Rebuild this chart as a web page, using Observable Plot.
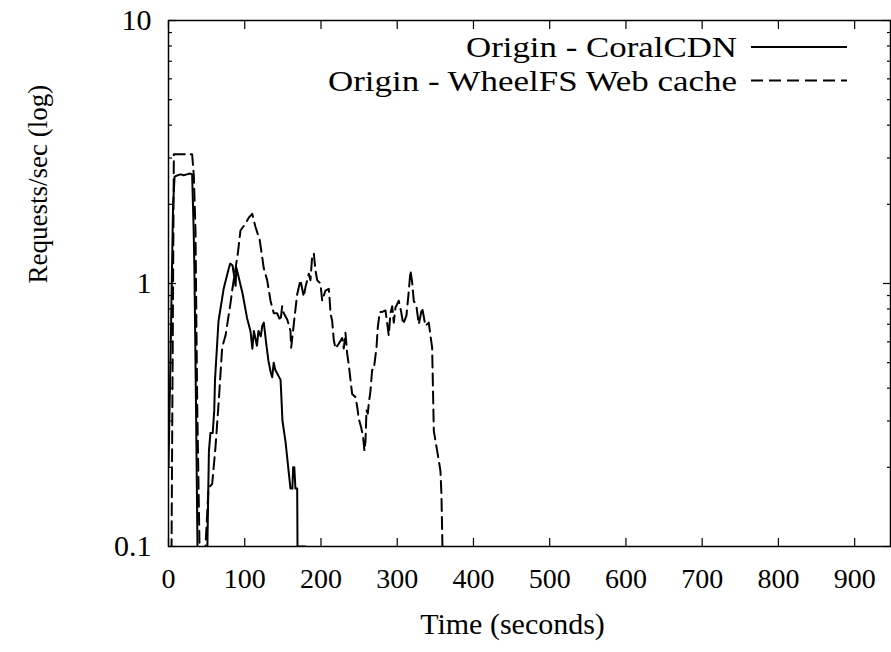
<!DOCTYPE html>
<html><head><meta charset="utf-8">
<script src="https://cdn.jsdelivr.net/npm/d3@7"></script>
<script src="https://cdn.jsdelivr.net/npm/@observablehq/plot@0.6"></script>
<style>body{margin:0;background:#fff}</style>
</head><body><div id="chart"></div>
<script>
// Series: Origin - CoralCDN (solid)
const coralT = [0,3,6,8,12,16,20,24,28,31,33,34,36,38,39,50,51,53,55,58,60,61,65.6,72.5,79,81,84,88,89,97,103,107.5,110,112,116,118,121,123,125,128.5,131,134,136,138,140,147,149.5,153.5,157.5,160,162.5,163.5,165,166.5,168.8,169.2,180];
const coralV = [0.2,0.6,2.0,2.55,2.58,2.6,2.58,2.6,2.62,2.6,1.6,1.12,0.36,0.1,0.07,0.07,0.1,0.23,0.27,0.27,0.33,0.43,0.72,0.96,1.14,1.19,1.17,0.98,1.15,0.92,0.74,0.66,0.565,0.66,0.58,0.66,0.63,0.69,0.71,0.58,0.51,0.46,0.44,0.5,0.47,0.43,0.3,0.25,0.194,0.166,0.166,0.2,0.2,0.166,0.166,0.1,0.1];
// Series: Origin - WheelFS Web cache (dashed)
const wheelT = [0,4,7,10,15,20,25,31,33.2,35.4,37.6,39.7,40.7,42,47,48.5,52.5,57.3,61.6,66,70.4,74.8,81.3,83.5,87.9,90.9,94.4,101,105.3,109.8,114.1,119.7,122.9,125,129.4,133.8,138.1,142.6,146.9,149.1,151.2,155.7,160,160.9,164.3,168.8,173.1,177.4,179.7,184,186.2,188.5,190.6,192.8,195,199.3,201.6,205.9,210.2,211.5,212.5,214.7,216.8,219,223.3,227.8,229.9,232.1,234.4,236.5,238.7,240.9,245.2,247.5,249.6,252.7,255.3,257,258.4,259.7,261.4,262.7,264.9,267.1,269.2,272.8,274.5,277.1,280.3,284.6,288.9,291.1,293.4,295.5,297.7,302,305.2,307.8,312.1,315.1,317.4,319.6,321.7,325.2,328.3,332.7,337,341.4,343.6,345.8,346.5,348,352.4,356.7,358,359,359.3,360.5];
const wheelV = [0.07,0.1,3.1,3.1,3.1,3.1,3.1,3.1,2.58,1.59,0.36,0.149,0.1,0.07,0.07,0.1,0.167,0.173,0.238,0.36,0.572,0.634,0.84,0.94,1.14,1.30,1.59,1.69,1.78,1.84,1.64,1.46,1.26,1.14,1.03,0.86,0.77,0.77,0.72,0.82,0.77,0.73,0.66,0.57,0.70,0.91,1.03,0.89,0.97,1.09,1.03,1.28,1.30,1.12,1.03,1.0,0.86,0.94,0.955,0.86,0.77,0.72,0.61,0.566,0.59,0.62,0.566,0.65,0.54,0.49,0.43,0.38,0.37,0.34,0.305,0.284,0.26,0.231,0.252,0.33,0.32,0.35,0.39,0.47,0.47,0.57,0.68,0.78,0.78,0.79,0.634,0.77,0.82,0.71,0.81,0.86,0.78,0.70,0.755,0.93,1.12,1.01,0.86,0.82,0.70,0.81,0.69,0.71,0.634,0.57,0.454,0.275,0.231,0.194,0.158,0.112,0.1,0.07];

const seriesNames = ["Origin - CoralCDN", "Origin - WheelFS Web cache"];
const xTicks = [0,100,200,300,400,500,600,700,800,900];
const yTicks = [0.1, 1, 10];
const yTickLabels = ["0.1", "1", "10"];
const yMinor = [0.2,0.3,0.4,0.5,0.6,0.7,0.8,0.9,2,3,4,5,6,7,8,9];
const xTitle = "Time (seconds)";
const yTitle = "Requests/sec (log)";

const coral = coralT.map((t, i) => ({t, v: coralV[i]}));
const wheel = wheelT.map((t, i) => ({t, v: wheelV[i]}));
const FONT = "'Liberation Serif', 'Times New Roman', serif";

const chart = Plot.plot({
  width: 891, height: 652,
  marginLeft: 168, marginRight: 1, marginTop: 20, marginBottom: 106,
  style: {fontFamily: FONT, background: "white", color: "black"},
  x: {domain: [0, 947]},
  y: {type: "log", domain: [0.1, 10]},
  marks: [
    Plot.line(coral, {x: "t", y: "v", stroke: "black", strokeWidth: 2, clip: true}),
    Plot.line(wheel, {x: "t", y: "v", stroke: "black", strokeWidth: 2, strokeDasharray: "12,6", clip: true}),
    Plot.axisX(xTicks, {anchor: "bottom", tickSize: -8, tickFormat: () => "", label: null, strokeWidth: 1.2}),
    Plot.axisX(xTicks, {anchor: "top", tickSize: -8, tickFormat: () => "", label: null, strokeWidth: 1.2}),
    Plot.axisX(xTicks, {anchor: "bottom", tickSize: 0, tickPadding: 22, fontSize: 28, tickFormat: d => String(d), label: null}),
    Plot.axisY(yTicks, {anchor: "left", tickSize: -8, tickFormat: () => "", label: null, strokeWidth: 1.2}),
    Plot.axisY(yTicks, {anchor: "right", tickSize: -8, tickFormat: () => "", label: null, strokeWidth: 1.2}),
    Plot.axisY(yMinor, {anchor: "left", tickSize: -4, tickFormat: () => "", label: null, strokeWidth: 1.2}),
    Plot.axisY(yMinor, {anchor: "right", tickSize: -4, tickFormat: () => "", label: null, strokeWidth: 1.2}),
    Plot.axisY(yTicks, {anchor: "left", tickSize: 0, tickPadding: 17, fontSize: 30, tickFormat: d => yTickLabels[yTicks.indexOf(d)], label: null}),
    Plot.text([xTitle], {frameAnchor: "bottom", dy: 87, dx: -17, text: d => d, fontSize: 30}),
    Plot.text([yTitle], {frameAnchor: "left", dx: -130, rotate: -90, text: d => d, fontSize: 27}),
    Plot.frame({stroke: "black", strokeWidth: 1.5})
  ]
});
document.getElementById("chart").appendChild(chart);

// Legend (inside top-right of the frame)
const legendWidths = [271, 409];
const svg = d3.select(chart);
const leg = svg.append("g").attr("font-family", FONT).attr("font-size", 29);
seriesNames.forEach((name, i) => {
  const y = 47 + i * 33.5;
  leg.append("text").attr("x", 737).attr("y", y).attr("dy", "0.35em")
    .attr("text-anchor", "end").attr("fill", "black")
    .attr("textLength", legendWidths[i]).attr("lengthAdjust", "spacingAndGlyphs")
    .text(name);
  leg.append("line").attr("x1", 751).attr("x2", 847).attr("y1", y).attr("y2", y)
    .attr("stroke", "black").attr("stroke-width", 2)
    .attr("stroke-dasharray", i === 1 ? "12,6" : null);
});
</script>
</body></html>
